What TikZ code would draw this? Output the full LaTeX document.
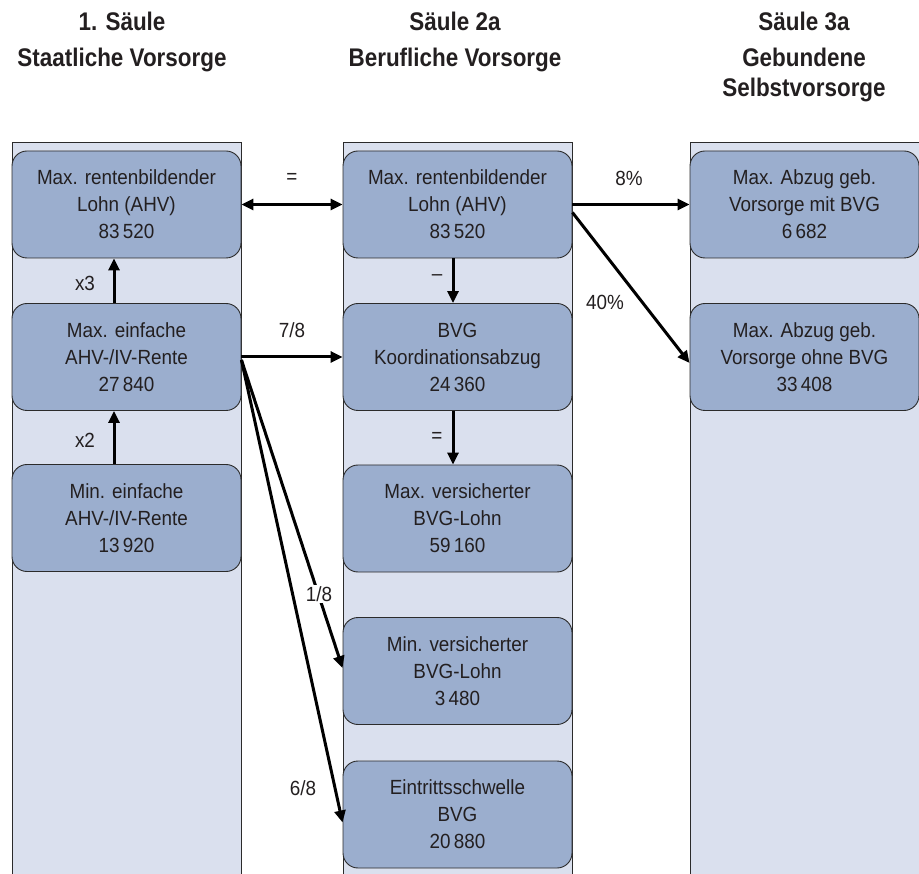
\documentclass[tikz,border=0pt]{standalone}
\usepackage{fontspec}
\setmainfont{Liberation Sans}[FakeStretch=0.92]
\newfontfamily\headfont{Liberation Sans}[FakeStretch=0.88]
\usetikzlibrary{arrows.meta}
\definecolor{colbg}{HTML}{DAE0EE}
\definecolor{boxbg}{HTML}{9BAECE}
\definecolor{edge}{HTML}{2B2B2B}
\definecolor{txt}{HTML}{231F20}
\tikzset{
  column/.style={fill=colbg, draw=edge, line width=0.9pt},
  box/.style={rectangle, rounded corners=15pt, minimum width=229pt, minimum height=107pt,
    inner sep=0pt, fill=boxbg, draw=edge, line width=0.9pt, align=center, text=txt,
    font=\fontsize{20.5}{27}\selectfont},
  head/.style={align=center, text=txt, font=\headfont\bfseries\fontsize{25.5}{36}\selectfont, anchor=base, inner sep=0pt},
  lbl/.style={text=txt, font=\fontsize{20.5}{24}\selectfont, inner sep=1pt},
  arr/.style={draw=black, line width=3pt, -{Triangle[length=12pt,width=11pt]}},
  darr/.style={draw=black, line width=3pt, {Triangle[length=12pt,width=11pt]}-{Triangle[length=12pt,width=11pt]}}
}
\begin{document}
\begin{tikzpicture}[x=1pt,y=-1pt]
\useasboundingbox (0,0) rectangle (919,874);
\clip (0,0) rectangle (919,874);
% headers
\node[head] (h1) at (122,67) {1. Säule\\Staatliche Vorsorge};
\node[head] (h2) at (455,67) {Säule 2a\\Berufliche Vorsorge};
\node[head] (h3) at (804,97) {Säule 3a\\Gebundene\\[-6pt]Selbstvorsorge};
% columns
\draw[column] (12,142) rectangle (241,890);
\draw[column] (343,142) rectangle (572,890);
\draw[column] (690,142) rectangle (925,890);
% boxes
\node[box] (A1) at (126.5,204.5) {Max. rentenbildender\\Lohn (AHV)\\83\,520};
\node[box] (A2) at (126.5,357) {Max. einfache\\AHV-/IV-Rente\\27\,840};
\node[box] (A3) at (126.5,518) {Min. einfache\\AHV-/IV-Rente\\13\,920};
\node[box] (B1) at (457.5,204.5) {Max. rentenbildender\\Lohn (AHV)\\83\,520};
\node[box] (B2) at (457.5,357) {BVG\\Koordinationsabzug\\24\,360};
\node[box] (B3) at (457.5,518.5) {Max. versicherter\\BVG-Lohn\\59\,160};
\node[box] (B4) at (457.5,671) {Min. versicherter\\BVG-Lohn\\3\,480};
\node[box] (B5) at (457.5,814.5) {Eintrittsschwelle\\BVG\\20\,880};
\node[box] (C1) at (804.5,204.5) {Max. Abzug geb.\\Vorsorge mit BVG\\6\,682};
\node[box] (C2) at (804.5,357) {Max. Abzug geb.\\Vorsorge ohne BVG\\33\,408};
% column 1 arrows
\draw[arr] ([xshift=-12.5pt]A2.north) -- ([xshift=-12.5pt]A1.south);
\node[lbl] (lx3) at (85,283) {x3};
\draw[arr] ([xshift=-12.5pt]A3.north) -- ([xshift=-12.5pt]A2.south);
\node[lbl] (lx2) at (85,440) {x2};
% column 2 arrows
\draw[arr] ([xshift=-4.5pt]B1.south) -- ([xshift=-4.5pt]B2.north);
\node[lbl] (lminus) at (437,278) {–};
\draw[arr] ([xshift=-4.5pt]B2.south) -- ([xshift=-4.5pt]B3.north);
\node[lbl] (leq2) at (437,437) {=};
% cross arrows
\draw[darr] (A1.east) -- (B1.west);
\node[lbl] (leq1) at (292,178) {=};
\draw[arr] (B1.east) -- (C1.west);
\node[lbl] (l8) at (629,178) {8\%};
\draw[arr] ([yshift=-8pt]B1.east) -- ([yshift=-6pt]C2.west);
\node[lbl] (l40) at (605,302) {40\%};
\draw[arr] (A2.east) -- (B2.west);
\node[lbl] (l78) at (292,330) {7/8};
\draw[arr] ([yshift=-3pt]A2.east) -- ([yshift=3pt]B4.west);
\node[lbl, fill=white] (l18) at (319,594) {1/8};
\draw[arr] ([yshift=-3pt]A2.east) -- ([yshift=-8pt]B5.west);
\node[lbl] (l68) at (303,788) {6/8};
\end{tikzpicture}
\end{document}
